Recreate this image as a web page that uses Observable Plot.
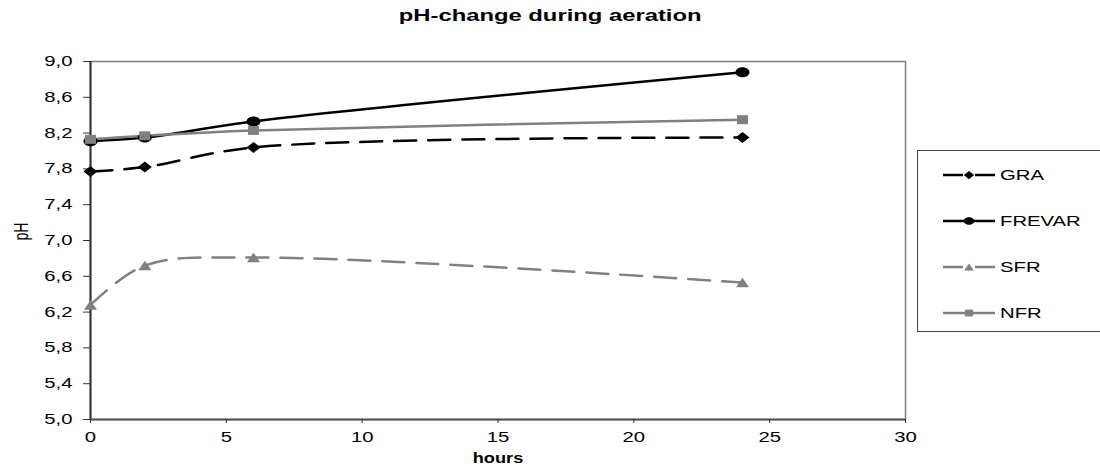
<!DOCTYPE html>
<html>
<head>
<meta charset="utf-8">
<script src="https://cdn.jsdelivr.net/npm/d3@7"></script>
<script src="https://cdn.jsdelivr.net/npm/@observablehq/plot@0.6"></script>
<style>
  html, body { margin: 0; padding: 0; background: #fff; }
  #wrap { position: relative; width: 1100px; height: 471px; overflow: hidden; font-family: "Liberation Sans", Arial, sans-serif; }
  #title { height: 52px; width: 1100px; text-align: center; box-sizing: border-box; padding-top: 6px; line-height: 20px; }
  #title span { display: inline-block; font-weight: bold; font-size: 17px; transform: scaleX(1.4); transform-origin: center; }
</style>
</head>
<body>
<div id="wrap">
  <div id="title"><span>pH-change during aeration</span></div>
</div>
<script>
// ---- data ----
const hours = [0, 2, 6, 24];
const GRA = [7.77, 7.82, 8.04, 8.15];
const FREVAR = [8.11, 8.15, 8.33, 8.88];
const SFR = [6.28, 6.72, 6.81, 6.53];
const NFR = [8.13, 8.17, 8.23, 8.35];
const seriesNames = ["GRA", "FREVAR", "SFR", "NFR"];
const xTicks = [0, 5, 10, 15, 20, 25, 30];
const yTicks = [5.0, 5.4, 5.8, 6.2, 6.6, 7.0, 7.4, 7.8, 8.2, 8.6, 9.0];

const seriesValues = {GRA, FREVAR, SFR, NFR};

// ---- custom stretched symbols ----
const ellipse = {draw(ctx) { const rx = 7, ry = 5, k = 0.5523;
  ctx.moveTo(rx, 0);
  ctx.bezierCurveTo(rx, ry * k, rx * k, ry, 0, ry);
  ctx.bezierCurveTo(-rx * k, ry, -rx, ry * k, -rx, 0);
  ctx.bezierCurveTo(-rx, -ry * k, -rx * k, -ry, 0, -ry);
  ctx.bezierCurveTo(rx * k, -ry, rx, -ry * k, rx, 0);
  ctx.closePath(); }};
const diamond = {draw(ctx) { const w = 7, h = 5.5;
  ctx.moveTo(-w, 0); ctx.lineTo(0, -h); ctx.lineTo(w, 0); ctx.lineTo(0, h); ctx.closePath(); }};
const square = {draw(ctx) { const w = 5.5, h = 4.5;
  ctx.moveTo(-w, -h); ctx.lineTo(w, -h); ctx.lineTo(w, h); ctx.lineTo(-w, h); ctx.closePath(); }};
const triangle = {draw(ctx) { const w = 6.5, h = 4.8;
  ctx.moveTo(0, -h); ctx.lineTo(w, h); ctx.lineTo(-w, h); ctx.closePath(); }};

const styles = {
  GRA:    {color: "#000000", dash: "22,12", symbol: diamond},
  FREVAR: {color: "#000000", dash: null,    symbol: ellipse},
  SFR:    {color: "#808080", dash: "22,12", symbol: triangle},
  NFR:    {color: "#808080", dash: null,    symbol: square}
};

const rows = seriesNames.flatMap(s => hours.map((h, i) => ({series: s, hours: h, pH: seriesValues[s][i]})));

const marks = [
  Plot.frame({stroke: "#808080", strokeWidth: 1.5}),
  Plot.ruleX([0], {stroke: "#333", strokeWidth: 2}),
  Plot.ruleY([5], {stroke: "#555", strokeWidth: 2}),
  Plot.axisX({ticks: xTicks, tickSize: 4, tickPadding: 9, label: null, stroke: "#333", className: "ticklab"}),
  Plot.axisY({ticks: yTicks, tickSize: 7, tickPadding: 11, label: null, stroke: "#333",
    tickFormat: d => d3.format(".1f")(d).replace(".", ","), className: "ticklab"}),
  Plot.text(["hours"], {frameAnchor: "bottom", dy: 43, fontWeight: "bold", fontSize: 14, className: "hourslab"}),
  Plot.text(["pH"], {frameAnchor: "left", dx: -69, rotate: -90, fontSize: 14, className: "phlab"})
];
for (const s of seriesNames) {
  const st = styles[s];
  const d = rows.filter(r => r.series === s);
  marks.push(Plot.line(d, {x: "hours", y: "pH", stroke: st.color, strokeWidth: 2.5,
    strokeDasharray: st.dash || undefined, curve: "catmull-rom"}));
}
for (const s of seriesNames) {
  const st = styles[s];
  const d = rows.filter(r => r.series === s);
  marks.push(Plot.dot(d, {x: "hours", y: "pH", symbol: () => st.symbol, fill: st.color, stroke: "none", r: 5}));
}

const chart = Plot.plot({
  width: 1100,
  height: 419,
  marginTop: 9,
  marginBottom: 52,
  marginLeft: 90,
  marginRight: 195,
  x: {domain: [0, 30]},
  y: {domain: [5, 9]},
  symbol: {type: "identity"},
  style: {fontFamily: "'Liberation Sans', Arial, sans-serif", fontSize: "14px", color: "#000", background: "#fff"},
  marks
});

const wrap = document.getElementById("wrap");
wrap.appendChild(chart);

// horizontal stretch of text, matching the reference's wide lettering
d3.select(chart).selectAll(".ticklab text").each(function () {
  const t = this.getAttribute("transform") || "";
  this.setAttribute("transform", t + " scale(1.45,1)");
});
d3.select(chart).selectAll(".hourslab text").each(function () {
  const t = this.getAttribute("transform") || "";
  this.setAttribute("transform", t + " scale(1.3,1)");
});
d3.select(chart).selectAll(".phlab text").each(function () {
  const t = this.getAttribute("transform") || "";
  this.setAttribute("transform", t + " scale(1,1.4)");
});

// ---- legend ----
const legend = d3.create("svg")
  .attr("width", 183).attr("height", 185)
  .style("position", "absolute").style("left", "917px").style("top", "150px");
legend.append("rect").attr("x", 0.5).attr("y", 0.5).attr("width", 200).attr("height", 181)
  .attr("fill", "#fff").attr("stroke", "#444");
const itemY = d3.scalePoint().domain(seriesNames).range([25, 163]);
for (const s of seriesNames) {
  const st = styles[s], y = itemY(s);
  legend.append("line").attr("x1", 26).attr("x2", 78).attr("y1", y).attr("y2", y)
    .attr("stroke", st.color).attr("stroke-width", 2.5)
    .attr("stroke-dasharray", st.dash ? "20,12" : null);
  legend.append("path").attr("d", d3.symbol(st.symbol)()).attr("fill", st.color)
    .attr("transform", `translate(52,${y}) scale(0.75)`);
  legend.append("text").attr("transform", `translate(83,${y + 5}) scale(1.45,1)`)
    .attr("font-size", 14).attr("font-family", "'Liberation Sans', Arial, sans-serif")
    .text(s);
}
wrap.appendChild(legend.node());
</script>
</body>
</html>
